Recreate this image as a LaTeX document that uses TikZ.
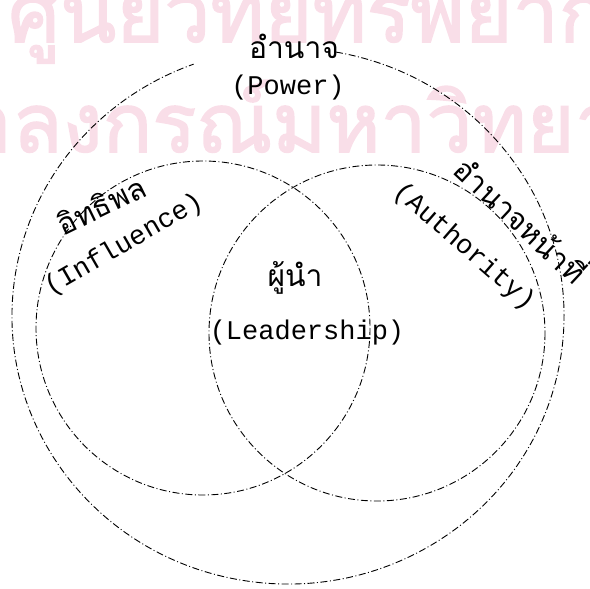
\documentclass[tikz,border=0pt]{standalone}
\usepackage{fontspec}
\newfontfamily\thaifont[Script=Thai]{Loma}
\newfontfamily\wmfont[Script=Thai,FakeBold=2]{Loma}
\newfontfamily\tw{Liberation Mono}
\definecolor{wm}{RGB}{249,222,232}
\begin{document}
\begin{tikzpicture}[x=1pt,y=-1pt,
  circ/.style={line width=0.9pt, dash pattern=on 7pt off 2.5pt on 1pt off 2.5pt},
  lat/.style={font=\tw\fontsize{27}{30}\selectfont, inner sep=0pt},
  th/.style={font=\thaifont\fontsize{30}{34}\selectfont, inner sep=0pt},
  wmtext/.style={font=\wmfont\fontsize{82}{90}\selectfont, text=wm, inner sep=0pt, anchor=base west}]
\useasboundingbox (0,0) rectangle (590,589);
\begin{scope}
\clip (0,0) rectangle (590,589);
\node[wmtext] (wm1) at (8,42) {ศูนย์วิทยทรัพยากร};
\node[wmtext] (wm2) at (-138,152) {จุฬาลงกรณ์มหาวิทยาลัย};
\draw[circ, shift={(288,316)}] (280:276 and 268) arc [start angle=280, end angle=610, x radius=276, y radius=268];
\draw[circ] (203,328) circle [radius=167];
\draw[circ] (377,333) circle [radius=168];
\end{scope}
\node[th] (powerth) at (294,46) {อำนาจ};
\node[lat] (powerla) at (288,88) {(Power)};
\node[th, rotate=26] (inflth) at (101,205) {อิทธิพล};
\node[lat, rotate=30] (infla) at (124,245) {(Influence)};
\node[th, rotate=-43] (authth) at (523,218) {อำนาจหน้าที่};
\node[lat, rotate=-41] (authla) at (464,247) {(Authority)};
\node[th] (leadth) at (295,278) {ผู้นำ};
\node[lat] (leadla) at (307,333) {(Leadership)};
\end{tikzpicture}
\end{document}
